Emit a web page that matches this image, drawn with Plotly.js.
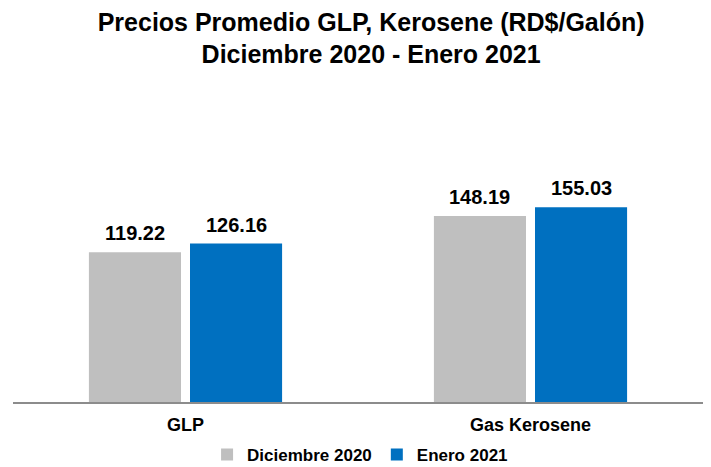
<!DOCTYPE html>
<html>
<head>
<meta charset="utf-8">
<script src="https://cdn.plot.ly/plotly-3.0.1.min.js"></script>
<style>html,body{margin:0;padding:0;background:#fff}#chart{width:711px;height:467px}</style>
</head>
<body>
<div id="chart"></div>
<script>
const categories = ["GLP", "Gas Kerosene"];
const seriesNames = ["Diciembre 2020", "Enero 2021"];
const dic2020 = [119.22, 148.19];
const ene2021 = [126.16, 155.03];
const colors = ["#bfbfbf", "#0070c0"];

const FONT = "Liberation Sans, Arial, sans-serif";
const W = 711, H = 467;
const margin = {l: 13, r: 8, t: 176, b: 65};
const bargap = 0.414, bargroupgap = 0.089;

function mk(name, vals, color) {
  return {
    type: "bar", name: name, x: categories, y: vals,
    marker: {color: color},
    hoverinfo: "none"
  };
}
const series = [dic2020, ene2021];
const data = [mk(seriesNames[0], dic2020, colors[0]), mk(seriesNames[1], ene2021, colors[1])];

// value labels placed via data coordinates; x shift derived from bar slot width
const catPx = (W - margin.l - margin.r) / categories.length;
const slotPx = catPx * (1 - bargap) / series.length;
const annotations = [];
series.forEach((vals, si) => {
  const shift = (si - (series.length - 1) / 2) * slotPx;
  vals.forEach((v, ci) => {
    annotations.push({
      x: categories[ci], y: v, xref: "x", yref: "y",
      text: "<b>" + v.toFixed(2) + "</b>", showarrow: false,
      xshift: shift, yshift: 6, yanchor: "bottom", xanchor: "center",
      font: {family: FONT, size: 20, color: "#000"}
    });
  });
});

const layout = {
  width: W, height: H,
  margin: margin,
  paper_bgcolor: "#fff", plot_bgcolor: "#fff",
  font: {family: FONT, color: "#000"},
  title: {
    text: "<b>Precios Promedio GLP, Kerosene (RD$/Galón)</b><br><b>Diciembre 2020 - Enero 2021</b>",
    font: {family: FONT, size: 25, color: "#000"},
    x: 0.522, xanchor: "center", yref: "container", y: 0.934, yanchor: "middle"
  },
  barmode: "group",
  bargap: bargap,
  bargroupgap: bargroupgap,
  xaxis: {
    showline: true, linecolor: "#8c8c8c", linewidth: 2,
    ticks: "outside", ticklen: 5, tickcolor: "rgba(0,0,0,0)",
    tickfont: {family: FONT, size: 18, color: "#000", weight: "bold"},
    showgrid: false, zeroline: false, fixedrange: true, automargin: false
  },
  yaxis: {
    range: [0, 180], visible: false, showgrid: false, zeroline: false, fixedrange: true
  },
  legend: {
    orientation: "h", x: 0.503, xanchor: "center", yref: "container", y: 0.026, yanchor: "middle",
    font: {family: FONT, size: 17, color: "#000", weight: "bold"},
    itemwidth: 30, traceorder: "normal"
  },
  annotations: annotations,
  showlegend: true
};
Plotly.newPlot("chart", data, layout, {displayModeBar: false, staticPlot: true});
</script>
</body>
</html>
